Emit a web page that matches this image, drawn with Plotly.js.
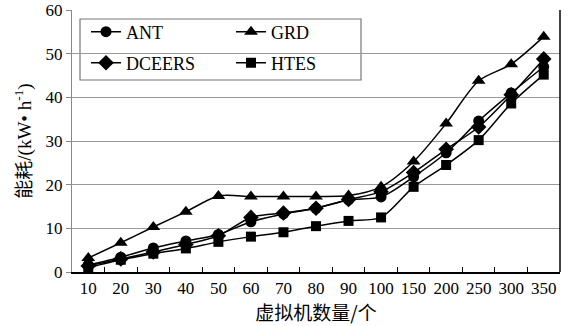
<!DOCTYPE html>
<html><head><meta charset="utf-8">
<script src="https://cdn.plot.ly/plotly-3.0.1.min.js"></script>
<style>body{margin:0;background:#fff}#c{width:584px;height:326px}</style>
</head><body><div id="c"></div>
<script>
const categories = ['10','20','30','40','50','60','70','80','90','100','150','200','250','300','350'];
const ant    = [1.6, 3.4, 5.5, 7.1, 8.6, 11.5, 13.3, 14.6, 16.5, 17.2, 21.8, 27.3, 34.6, 41.0, 47.0];
const grd    = [3.2, 6.7, 10.3, 13.8, 17.4, 17.3, 17.3, 17.3, 17.5, 19.5, 25.3, 34.0, 43.8, 47.6, 53.9];
const dceers = [1.4, 3.0, 4.6, 6.3, 8.3, 12.5, 13.5, 14.6, 16.6, 18.4, 22.8, 28.1, 33.2, 40.6, 48.8];
const htes   = [1.0, 2.8, 4.2, 5.4, 6.9, 8.1, 9.1, 10.5, 11.7, 12.5, 19.5, 24.5, 30.2, 38.6, 45.2];
const names  = ['ANT','GRD','DCEERS','HTES'];

const series = [ant, grd, dceers, htes];
const symbols = ['circle','triangle-up','diamond','square'];
const sizes = [11, 12, 12, 10];
const legends = ['legend','legend3','legend2','legend4'];
const traces = series.map((s,i)=>({
  x: categories, y: s, name: names[i], type:'scatter', mode:'lines+markers',
  line:{color:'#000', width:1.5, shape:'spline', smoothing:0.8},
  marker:{symbol:symbols[i], size:sizes[i], color:'#000'},
  legend: legends[i]
}));
const W=488, L=72, T=10, H=262;
const px=(x)=> (x-L)/W, py=(y)=> 1-(y-T)/H;
const lf = {family:'Liberation Serif, serif', size:18, color:'#000'};
function leg(x,y){return {x:px(x), y:py(y), xanchor:'left', yanchor:'middle', bgcolor:'rgba(0,0,0,0)', borderwidth:0, font:lf, itemwidth:30};}
const layout = {
  width:584, height:326,
  margin:{l:L, r:584-L-W, t:T, b:326-T-H},
  paper_bgcolor:'#fff', plot_bgcolor:'#fff',
  showlegend:true,
  legend: leg(86,32), legend2: leg(86,63), legend3: leg(231,32), legend4: leg(231,63),
  xaxis:{type:'category', range:[-0.5,14.5], tickson:'boundaries', ticks:'inside', ticklen:5, tickcolor:'#000', tickangle:0,
    showline:true, linecolor:'#000', linewidth:1.5, showgrid:false,
    tickfont:{family:'Liberation Serif, serif', size:17, color:'#000'},
    title:{text:'虚拟机数量/个', font:{family:'Noto Sans CJK SC, sans-serif', size:19, color:'#000'}, standoff:5}},
  yaxis:{range:[0,60], dtick:10, ticks:'outside', ticklen:5, tickcolor:'#888',
    showline:true, linecolor:'#888', linewidth:1.2, showgrid:true, gridcolor:'#999', gridwidth:1,
    zeroline:false,
    tickfont:{family:'Liberation Serif, serif', size:17, color:'#000'},
    title:{text:'能耗/(kW• h<sup>-1</sup>)', font:{family:'Liberation Serif, Noto Sans CJK SC, serif', size:19, color:'#000'}, standoff:8}},
  shapes:[
    {type:'line', xref:'paper', yref:'paper', x0:1, x1:1, y0:0, y1:1, line:{color:'#000', width:1.5}},
    {type:'rect', xref:'paper', yref:'paper', x0:px(80), x1:px(361), y0:py(80), y1:py(19), fillcolor:'#fff', line:{color:'#777', width:1.2}, layer:'between'}
  ]
};
Plotly.newPlot('c', traces, layout, {displayModeBar:false, staticPlot:true});
</script></body></html>
